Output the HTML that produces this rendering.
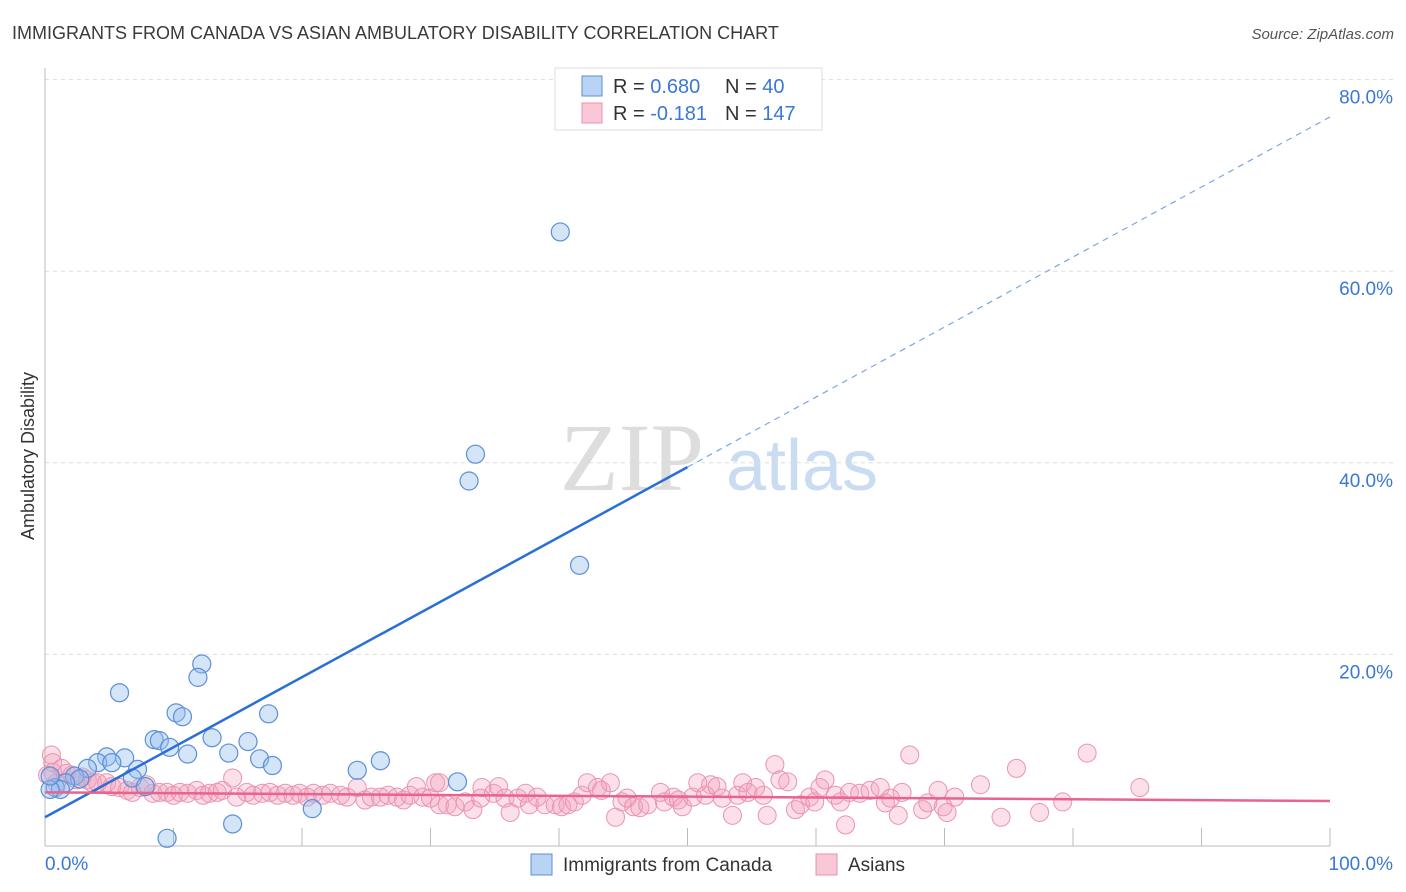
<!DOCTYPE html>
<html><head><meta charset="utf-8"><style>
body{margin:0;background:#fff;font-family:"Liberation Sans",sans-serif;}
svg{display:block}
</style></head><body>
<svg width="1406" height="892" viewBox="0 0 1406 892" id="chart">
<text x="12" y="39" font-size="18" fill="#3a3a3a">IMMIGRANTS FROM CANADA VS ASIAN AMBULATORY DISABILITY CORRELATION CHART</text>
<text x="1394" y="39" font-size="15" fill="#555" text-anchor="end" font-style="italic">Source: ZipAtlas.com</text>
<text x="0" y="0" transform="translate(34,456) rotate(-90)" font-size="18" fill="#333" text-anchor="middle">Ambulatory Disability</text>
<g>
<text x="632" y="490" font-size="96" fill="#ddd" font-family="Liberation Serif,serif" text-anchor="middle">ZIP</text>
<text x="802" y="490" font-size="72" fill="#c9dcf2" text-anchor="middle">atlas</text>
</g>
<g id="grid"></g>
<g id="axes"></g>
<g id="pink"></g>
<g id="blue"></g>
<g id="trends"></g>
<g>
<rect x="555" y="68" width="267" height="62" fill="#fff" stroke="#ddd"/>
<rect x="582" y="76" width="20" height="20" fill="#b9d3f3" stroke="#5b8fd8"/>
<rect x="582" y="103" width="20" height="20" fill="#f9c8d6" stroke="#e890ab"/>
<text x="613" y="93" font-size="20" fill="#333">R = <tspan fill="#3a78d4">0.680</tspan></text>
<text x="725" y="93" font-size="20" fill="#333">N = <tspan fill="#3a78d4"> 40</tspan></text>
<text x="613" y="120" font-size="20" fill="#333">R = <tspan fill="#3a78d4">-0.181</tspan></text>
<text x="725" y="120" font-size="20" fill="#333">N = <tspan fill="#3a78d4">147</tspan></text>
</g>
<g>
<rect x="531" y="854" width="21" height="21" fill="#b9d3f3" stroke="#5b8fd8"/>
<text x="563" y="871" font-size="19" fill="#333">Immigrants from Canada</text>
<rect x="816" y="854" width="21" height="21" fill="#f9c8d6" stroke="#e890ab"/>
<text x="848" y="871" font-size="19" fill="#333">Asians</text>
</g>
</svg>
<script>
const blueX=[40.1,33.5,33.0,41.6,12.2,11.9,5.8,10.2,10.7,17.4,8.5,8.9,9.7,13.0,15.8,14.3,11.1,6.2,4.8,4.1,5.2,16.7,17.7,26.1,24.3,3.3,7.2,6.8,2.3,2.7,1.6,0.8,1.2,0.4,7.8,32.1,20.8,14.6,9.5,0.4];
const blueY=[64.1,40.9,38.1,29.3,19.0,17.6,16.0,13.9,13.5,13.8,11.1,11.0,10.3,11.3,10.9,9.7,9.6,9.2,9.3,8.7,8.7,9.1,8.4,8.9,7.9,8.1,8.0,7.1,7.3,7.0,6.6,6.1,5.9,5.9,6.2,6.7,3.9,2.3,0.8,7.3];
const pinkX=[0.5,0.6,0.6,1.3,1.7,2.1,2.5,2.9,3.3,3.7,4.1,4.8,5.2,5.8,6.4,6.8,7.4,7.9,8.4,8.9,9.5,10.0,10.5,11.1,11.8,12.3,12.8,13.4,13.8,14.6,14.9,15.7,16.2,16.9,17.5,18.1,18.7,19.3,19.8,20.4,20.9,21.6,22.2,23.0,23.5,24.3,24.9,25.4,26.1,26.7,27.4,27.9,28.4,28.9,29.4,30.4,30.7,30.7,30.0,31.3,31.9,32.7,33.3,34.0,33.9,34.9,35.3,35.8,36.2,36.8,37.4,37.7,38.3,38.9,39.7,40.2,40.7,41.2,41.8,42.2,43.0,43.3,44.0,44.4,44.9,45.3,45.8,46.3,46.9,47.9,48.2,48.9,49.3,49.6,50.4,50.8,51.4,51.8,52.3,52.7,53.9,54.3,54.7,55.3,55.9,53.5,56.2,56.8,57.2,57.8,58.4,58.8,59.5,59.9,60.3,60.7,61.5,61.9,62.3,62.6,63.4,64.2,65.0,65.4,65.8,66.4,66.7,67.3,68.3,68.7,69.5,69.9,70.2,70.8,72.8,74.4,75.6,77.4,79.2,81.1,85.2,0.9,0.2];
const pinkY=[9.5,8.7,7.7,8.1,7.6,7.4,6.9,7.2,6.9,6.6,6.6,6.6,6.2,6.1,5.8,5.6,6.1,6.4,5.5,5.6,5.6,5.3,5.6,5.5,5.8,5.3,5.5,5.6,5.8,7.1,5.1,5.6,5.3,5.5,5.6,5.3,5.5,5.3,5.5,5.1,5.5,5.3,5.5,5.3,5.1,6.1,4.8,5.1,5.1,5.3,5.1,4.8,5.3,6.2,5.1,6.6,4.3,6.6,5.0,4.3,4.1,4.6,3.8,6.1,5.0,5.5,6.2,5.0,3.5,5.0,5.5,4.3,5.1,4.3,4.3,4.1,4.3,4.6,5.3,6.6,6.1,5.8,6.6,3.0,4.6,5.0,4.1,4.0,4.3,5.6,4.6,5.1,4.8,4.1,5.1,6.6,5.3,6.4,6.2,5.0,5.3,6.6,5.6,6.1,5.3,3.2,3.2,8.5,6.9,6.7,3.8,4.3,5.1,4.6,6.1,6.9,5.3,4.6,2.2,5.6,5.5,5.8,6.1,4.5,5.0,3.2,5.6,9.5,3.8,4.5,5.8,4.1,3.5,5.1,6.4,3.0,8.1,3.5,4.6,9.7,6.1,6.6,7.4];
const blueTrend=[3.0,76.1];
const pinkTrend=[5.6,4.7];
const yTicks=[20,40,60,80];
const xTickVals=[0,10,20,30,40,50,60,70,80,90,100];
const NS="http://www.w3.org/2000/svg";
const sx=p=>45+12.85*p;
const sy=v=>846-9.58*v;
function mk(tag,attrs,parent){const e=document.createElementNS(NS,tag);for(const k in attrs)e.setAttribute(k,attrs[k]);parent.appendChild(e);return e;}
const grid=document.getElementById('grid'),axes=document.getElementById('axes');
yTicks.forEach(t=>{
 const l=mk('line',{x1:45,x2:1393,y1:sy(t),y2:sy(t),stroke:'#ddd','stroke-dasharray':'4,4'},grid);
 
 
 const tx=mk('text',{x:1393,y:sy(t)+24,'font-size':19,fill:'#3a78d4','text-anchor':'end'},axes);
 tx.textContent=t.toFixed(1)+'%';
 
 
});
const ya=mk('line',{x1:45,x2:45,y1:68,y2:846,stroke:'#bbb'},axes);


const xa=mk('line',{x1:45,x2:1330,y1:846,y2:846,stroke:'#bbb'},axes);


xTickVals.forEach(t=>{
 if(t===0)return;
 const tk=mk('line',{x1:sx(t),x2:sx(t),y1:828,y2:846,stroke:'#bbb'},axes);
 
 
});
const xl0=mk('text',{x:45,y:870,'font-size':19,fill:'#3a78d4'},axes);
xl0.textContent='0.0%';


const xl1=mk('text',{x:1393,y:870,'font-size':19,fill:'#3a78d4','text-anchor':'end'},axes);
xl1.textContent='100.0%';


const pg=document.getElementById('pink');
pinkX.forEach((x,i)=>{
 const c=mk('circle',{cx:sx(x),cy:sy(pinkY[i]),r:9,fill:'rgba(244,160,188,0.32)',stroke:'#ea93b0','stroke-width':1},pg);
 
 
});
const bg=document.getElementById('blue');
blueX.forEach((x,i)=>{
 const c=mk('circle',{cx:sx(x),cy:sy(blueY[i]),r:9,fill:'rgba(150,190,238,0.4)',stroke:'#5b8fd8','stroke-width':1.2},bg);
 
 
});
const tg=document.getElementById('trends');
const bAt=p=>blueTrend[0]+(blueTrend[1]-blueTrend[0])*p/100;
const bs=mk('line',{x1:sx(0),y1:sy(bAt(0)),x2:sx(50),y2:sy(bAt(50)),stroke:'#2a6fd6','stroke-width':2.5},tg);


const bd=mk('line',{x1:sx(50),y1:sy(bAt(50)),x2:sx(100),y2:sy(bAt(100)),stroke:'#7aa6e4','stroke-width':1.2,'stroke-dasharray':'6,5'},tg);


const pt=mk('line',{x1:sx(0),y1:sy(pinkTrend[0]),x2:sx(100),y2:sy(pinkTrend[1]),stroke:'#e8638e','stroke-width':2.5},tg);


</script>
</body></html>
